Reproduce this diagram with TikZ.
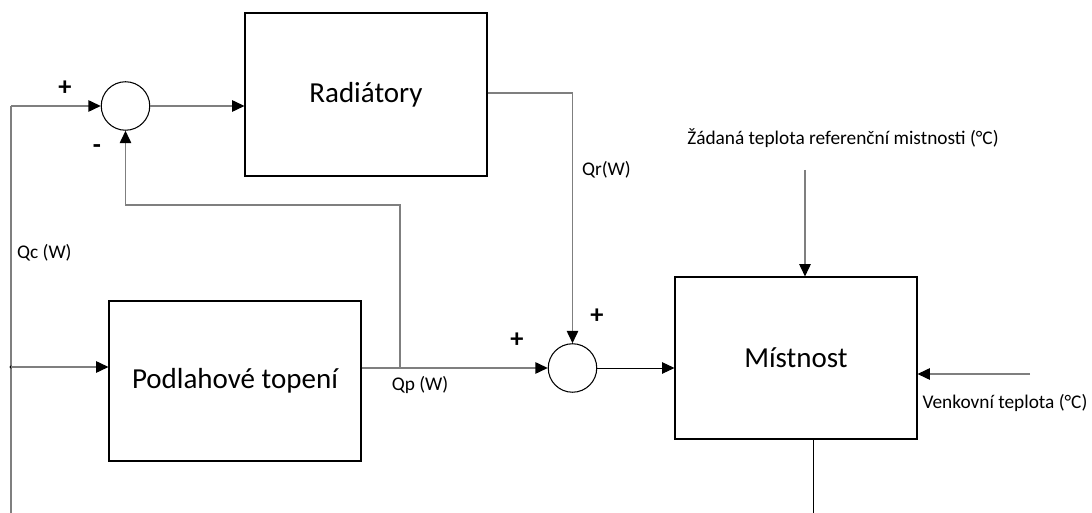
\documentclass[tikz,border=0pt]{standalone}
\usepackage{fontspec}
\setmainfont{Carlito}
\usepackage{tikz}
\usetikzlibrary{arrows.meta, positioning, calc}
\definecolor{wire}{HTML}{7F7F7F}
\definecolor{dark}{HTML}{000000}
\tikzstyle{block}  = [rectangle, draw=dark, line width=0.6pt, minimum width=4.84cm,
                      minimum height=3.26cm, text centered, font=\fontsize{16.5}{19}\selectfont]
\tikzstyle{sumnode}= [circle, draw=dark, line width=0.6pt, minimum size=0.97cm, inner sep=0pt]
\tikzstyle{arrow}  = [-{Triangle[length=7pt, width=6.5pt, color=dark]}, line width=0.7pt, color=wire]
\tikzstyle{wireln} = [line width=0.7pt, color=wire]
\tikzstyle{lbl}    = [font=\fontsize{11}{13}\selectfont, inner sep=1pt]
\tikzstyle{sign}   = [font=\fontsize{15}{16}\selectfont\bfseries, inner sep=0pt]

\begin{document}
\begin{tikzpicture}
  \useasboundingbox (0,0) rectangle (21.84,-10.26);

  %% Blocks
  \node[block] (rad) at (7.32,-1.89) {Radiátory};
  \node[block, minimum width=5.04cm, minimum height=3.2cm] (pod) at (4.70,-7.62)
        {Podlahové topení};
  \node[block, minimum height=3.24cm] (mist) at (15.92,-7.16) {Místnost};

  %% Summing junctions
  \node[sumnode] (sum1) at (2.51,-2.12) {};
  \node[sumnode] (sum2) at (11.45,-7.36) {};

  %% Free ends
  \coordinate (qcbot) at (0.22,-10.26);
  \coordinate (qctop) at (0.22,-2.12);
  \coordinate (qc)    at (0.22,-7.34);
  \coordinate (qp)    at (8.00,-7.36);
  \coordinate (fb)    at (8.00,-4.10);
  \coordinate (qr)    at (11.45,-1.86);
  \coordinate (ref)   at (16.10,-3.40);
  \coordinate (out)   at (20.60,-7.48);
  \coordinate (tbot)  at (16.26,-10.26);

  %% Arrows
  \draw[wireln] (qcbot) -- (qctop);
  \draw[arrow] (qctop) -- (sum1.west);
  \fill[dark] (qc) circle (0.9pt);
  \draw[arrow] (qc) -- (qc -| pod.west);
  \draw[arrow] (sum1.east) -- (sum1 -| rad.west);
  \draw[wireln] (rad.east |- qr) -- (qr);
  \draw[arrow] (qr) -- (sum2.north);
  \draw[wireln] (pod.east |- qp) -- (qp);
  \draw[arrow] (qp) -- (sum2.west);
  \draw[arrow] (qp) -- (fb) -- (sum1 |- fb) -- (sum1.south);
  \draw[arrow, color=dark, line width=0.5pt] (sum2.east) -- (mist.west |- sum2);
  \draw[arrow] (ref) -- (ref |- mist.north);
  \draw[arrow] (out) -- (out -| mist.east);
  \draw[wireln, color=dark, line width=0.5pt] (tbot |- mist.south) -- (tbot);

  %% Labels
  \node[sign] (p1) at (1.30,-1.76) {+};
  \node[sign] (m1) at (1.94,-2.98) {-};
  \node[sign] (p2) at (10.34,-6.80) {+};
  \node[sign] (p3) at (11.94,-6.32) {+};
  \node[lbl, anchor=west] (lqc) at (0.30,-5.06) {Qc (W)};
  \node[lbl] (lqp) at (8.40,-7.70) {Qp (W)};
  \node[lbl, anchor=west] (lqr) at (11.60,-3.40) {Qr(W)};
  \node[lbl] (lref) at (16.86,-2.76) {Žádaná teplota referenční mistnosti (°C)};
  \node[lbl] (lout) at (20.10,-8.06) {Venkovní teplota (°C)};

\end{tikzpicture}
\end{document}
